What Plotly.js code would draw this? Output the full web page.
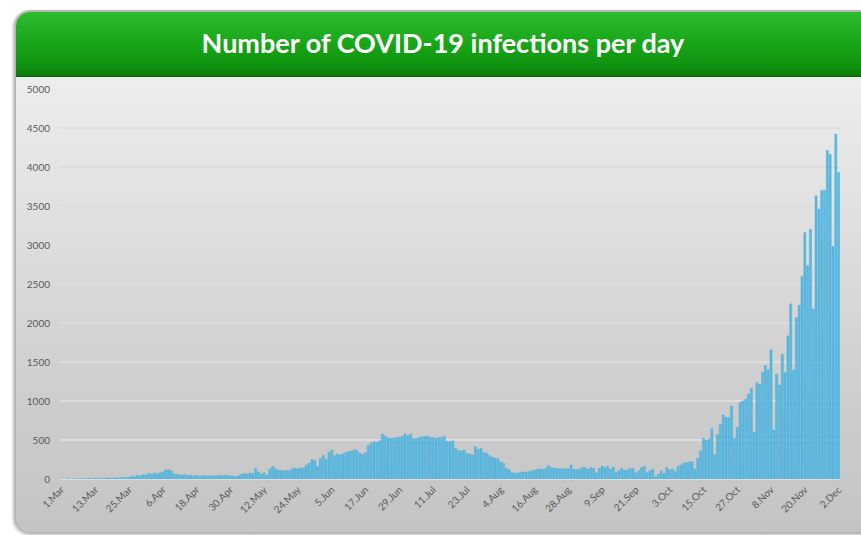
<!DOCTYPE html>
<html>
<head>
<meta charset="utf-8">
<script src="https://cdn.plot.ly/plotly-3.0.1.min.js"></script>
<style>
  html, body { margin: 0; padding: 0; background: #ffffff; width: 861px; height: 535px; overflow: hidden; }
  #frame { position: absolute; left: 14px; top: 10px; width: 880px; height: 520px; border-radius: 16px;
           border: 2px solid #b8b8b8; background: linear-gradient(#f3f3f3 0%, #e2e2e2 35%, #cdcdcd 75%, #c4c4c4 100%);
           box-shadow: -1px 1px 3px rgba(0,0,0,0.25); }
  #header { position: absolute; left: 16px; top: 12px; width: 880px; height: 64px; border-radius: 14px 14px 0 0;
            background: linear-gradient(#2cbc2c 0%, #1aa81a 45%, #0e920e 85%, #0a7a0a 100%);
            border-bottom: 1px solid #0b650b; }
  #chart { position: absolute; left: 0; top: 0; width: 861px; height: 535px; }
</style>
</head>
<body>
<div id="frame"></div>
<div id="header"></div>
<div id="chart"></div>
<script>
// Daily new infections, 1 Mar .. 2 Dec
const startDate = [2020, 2, 1]; // 1 March 2020 (month index 2)
const mar = [1,0,2,1,3,2,4,3,5,6,8,5,10,7,12,9,11,14,10,16,12,18,15,25,20,35,30,45,40,55,50];
const apr = [70,60,75,65,80,85,115,120,105,65,60,55,50,55,45,50,40,48,35,45,40,38,45,35,42,48,40,50,45,40];
const may = [35,30,45,60,70,65,75,70,137,90,60,80,50,125,160,130,115,110,105,110,110,135,140,130,145,140,180,200,250,235,160];
const jun = [265,300,250,340,370,300,320,310,325,340,350,360,375,365,330,320,340,430,460,480,470,490,575,550,530,520,525,530,540,545];
const jul = [575,555,575,520,515,530,540,545,550,535,530,525,535,530,550,485,480,490,390,365,360,370,330,320,310,415,380,390,340,330,300];
const aug = [280,265,260,220,200,135,120,80,75,78,85,90,88,95,105,115,125,130,120,135,170,145,140,135,130,135,130,130,180,125,120];
const sep = [125,150,150,125,145,140,80,135,165,145,160,125,150,80,105,135,115,115,135,135,80,105,145,160,80,105,125,30,60,105];
const oct = [70,145,115,125,95,160,180,200,210,220,220,125,265,360,520,500,510,645,310,570,700,820,790,790,935,520,660,980,1000,1020,1090];
const nov = [1160,595,1235,1215,1365,1455,1400,1655,630,1345,1205,1600,1365,1835,2245,1400,2070,2230,2595,3160,2735,3200,2180,3630,3460,3700,3700,4210,4160,2980];
const dec = [4420,3930];

const tickLabels = ['1.Mar','13.Mar','25.Mar','6.Apr','18.Apr','30.Apr','12.May','24.May','5.Jun','17.Jun','29.Jun','11.Jul',
                    '23.Jul','4.Aug','16.Aug','28.Aug','9.Sep','21.Sep','3.Oct','15.Oct','27.Oct','8.Nov','20.Nov','2.Dec'];
const tickStepDays = 12;

const values = [].concat(mar, apr, may, jun, jul, aug, sep, oct, nov, dec);

function dayStr(i) {
  const d = new Date(Date.UTC(startDate[0], startDate[1], startDate[2] + i));
  return d.toISOString().slice(0, 10);
}
const dates = values.map((_, i) => dayStr(i));
const tickVals = tickLabels.map((_, k) => dayStr(k * tickStepDays));

const trace = {
  type: 'bar',
  x: dates,
  y: values,
  marker: { color: '#58b9e2', line: { color: '#44a9d6', width: 0.4 } },
  hoverinfo: 'x+y'
};

const layout = {
  width: 861, height: 535,
  margin: { l: 60, r: 21, t: 89, b: 56, pad: 0 },
  paper_bgcolor: 'rgba(0,0,0,0)',
  plot_bgcolor: 'rgba(0,0,0,0)',
  bargap: 0.25,
  showlegend: false,
  title: {
    text: 'Number of COVID-19 infections per day',
    font: { family: 'Lato, sans-serif', size: 27, color: '#ffffff', weight: 'bold' },
    xref: 'container', yref: 'container',
    x: 0.5145, y: 1 - 44 / 535, xanchor: 'center', yanchor: 'middle'
  },
  xaxis: {
    type: 'date',
    range: [dayStr(-1) + ' 12:00', dayStr(values.length - 1) + ' 12:00'],
    tickmode: 'array', tickvals: tickVals, ticktext: tickLabels,
    tickangle: -45,
    tickfont: { family: 'Lato, sans-serif', size: 10, color: '#5a5a5a' },
    showgrid: false, showline: false, zeroline: false, ticks: '',
    ticklabelstandoff: 2
  },
  yaxis: {
    range: [0, 5000],
    tickmode: 'linear', tick0: 0, dtick: 500,
    tickfont: { family: 'Lato, sans-serif', size: 10, color: '#5a5a5a' },
    showgrid: true, gridcolor: '#dddddd', gridwidth: 1.5,
    zeroline: true, zerolinecolor: '#dcdcdc', zerolinewidth: 1.5,
    showline: false, ticks: '',
    ticklabelstandoff: 9
  }
};

Plotly.newPlot('chart', [trace], layout, { displayModeBar: false, staticPlot: true });
</script>
</body>
</html>
